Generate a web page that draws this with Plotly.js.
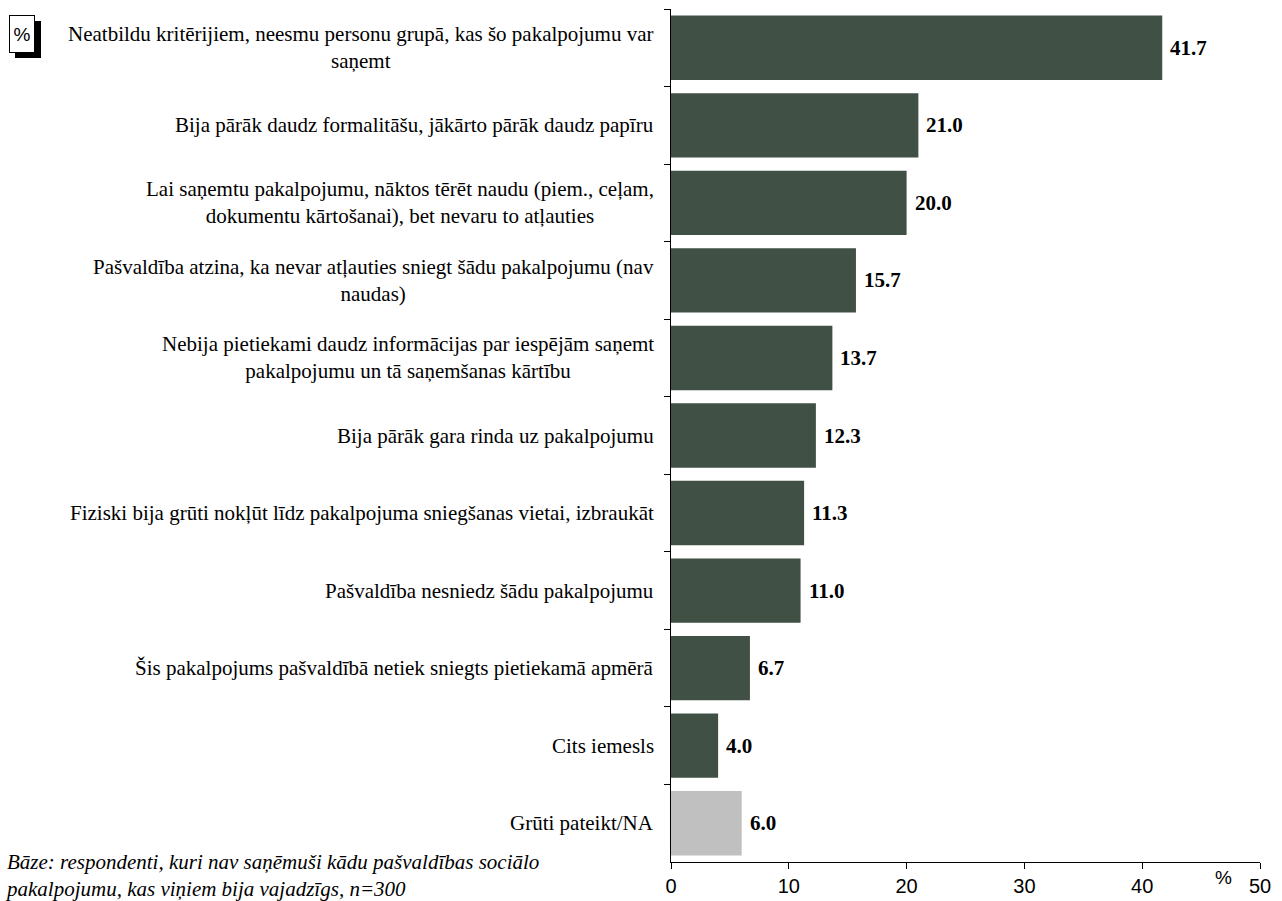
<!DOCTYPE html>
<html><head><meta charset="utf-8">
<script src="https://cdn.plot.ly/plotly-3.0.1.min.js"></script>
<style>html,body{margin:0;padding:0;background:#fff}#chart{width:1282px;height:901px}</style>
</head><body><div id="chart"></div>
<script>
const categories = [
  "Neatbildu kritērijiem, neesmu personu grupā, kas šo pakalpojumu var<br>saņemt",
  "Bija pārāk daudz formalitāšu, jākārto pārāk daudz papīru",
  "Lai saņemtu pakalpojumu, nāktos tērēt naudu (piem., ceļam,<br>dokumentu kārtošanai), bet nevaru to atļauties",
  "Pašvaldība atzina, ka nevar atļauties sniegt šādu pakalpojumu (nav<br>naudas)",
  "Nebija pietiekami daudz informācijas par iespējām saņemt<br>pakalpojumu un tā saņemšanas kārtību",
  "Bija pārāk gara rinda uz pakalpojumu",
  "Fiziski bija grūti nokļūt līdz pakalpojuma sniegšanas vietai, izbraukāt",
  "Pašvaldība nesniedz šādu pakalpojumu",
  "Šis pakalpojums pašvaldībā netiek sniegts pietiekamā apmērā",
  "Cits iemesls",
  "Grūti pateikt/NA"
];
const values = [41.7, 21.0, 20.0, 15.7, 13.7, 12.3, 11.3, 11.0, 6.7, 4.0, 6.0];
const barColors = ["#415044","#415044","#415044","#415044","#415044","#415044","#415044","#415044","#415044","#415044","#C0C0C0"];
const xTicks = [0, 10, 20, 30, 40, 50];
const footnote = "Bāze: respondenti, kuri nav saņēmuši kādu pašvaldības sociālo<br>pakalpojumu, kas viņiem bija vajadzīgs, n=300";

const W = 1282, H = 901;
const L = 671, R = 1260, T = 9, B = 862;
const px = x => (x - L) / (R - L);
const py = y => (B - y) / (B - T);

const serif = "Liberation Serif, Times New Roman, serif";
const sans = "Liberation Sans, Arial, sans-serif";

const annotations = [];
categories.forEach((c, i) => {
  annotations.push({
    xref: "x", yref: "y", x: 0, y: c, xanchor: "right", yanchor: "middle",
    xshift: -15, text: c, showarrow: false, align: "center",
    font: {family: serif, size: 21, color: "#000"}
  });
  annotations.push({
    xref: "x", yref: "y", x: values[i], y: c, xanchor: "left", yanchor: "middle",
    xshift: 6, text: "<b>" + values[i].toFixed(1) + "</b>", showarrow: false,
    font: {family: serif, size: 21, color: "#000"}
  });
});
annotations.push({
  xref: "paper", yref: "paper", x: px(3), y: py(848), xanchor: "left", yanchor: "top",
  text: "<i>" + footnote + "</i>", showarrow: false, align: "left",
  font: {family: serif, size: 21, color: "#000"}
});
annotations.push({
  xref: "paper", yref: "paper", x: px(1223), y: py(877), xanchor: "center", yanchor: "middle",
  text: "%", showarrow: false, font: {family: sans, size: 19, color: "#000"}
});
annotations.push({
  xref: "paper", yref: "paper", x: px(9), y: py(15), xanchor: "left", yanchor: "top",
  text: "%", showarrow: false, width: 24, height: 36, borderpad: 0,
  bordercolor: "#000", borderwidth: 1, bgcolor: "#fff",
  font: {family: sans, size: 19, color: "#000"}
});

const shapes = [{
  type: "rect", xref: "paper", yref: "paper",
  x0: px(15), x1: px(41), y0: py(21), y1: py(58),
  fillcolor: "#000", line: {width: 0}, layer: "above"
}];

const trace = {
  type: "bar", orientation: "h", x: values, y: categories,
  marker: {color: barColors, line: {width: 0}},
  width: 0.83, hoverinfo: "none"
};

const layout = {
  width: W, height: H,
  margin: {l: L, r: W - R, t: T, b: H - B, pad: 0},
  paper_bgcolor: "#fff", plot_bgcolor: "#fff",
  showlegend: false,
  xaxis: {
    range: [0, 50], tickvals: xTicks, ticktext: xTicks.map(String),
    showgrid: false, zeroline: false, showline: true, linecolor: "#000", linewidth: 1,
    ticks: "outside", ticklen: 6, tickcolor: "#000", tickwidth: 1,
    tickfont: {family: sans, size: 20, color: "#000"}, fixedrange: true
  },
  yaxis: {
    type: "category", autorange: "reversed", categoryorder: "array", categoryarray: categories,
    showticklabels: false, showgrid: false, zeroline: false,
    showline: true, linecolor: "#000", linewidth: 1,
    ticks: "outside", tickson: "boundaries", ticklen: 6, tickcolor: "#000", tickwidth: 1,
    fixedrange: true
  },
  annotations: annotations,
  shapes: shapes
};

Plotly.newPlot("chart", [trace], layout, {displayModeBar: false, staticPlot: true});
</script>
</body></html>
